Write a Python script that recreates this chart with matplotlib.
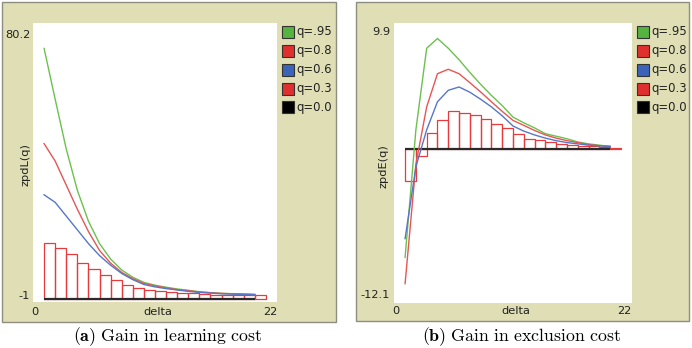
import numpy as np
import matplotlib
matplotlib.use("Agg")
import matplotlib.pyplot as plt
from matplotlib.patches import Rectangle

plt.rcParams['mathtext.fontset'] = 'cm'

# ---- data ----
delta = np.arange(1, 21)          # line points
bar_left = np.arange(1, 21)       # histogram bars cover [d, d+1]

labels = ['q=.95', 'q=0.8', 'q=0.6', 'q=0.3', 'q=0.0']

# panel (a): gain in learning cost
learn_q95 = [72.8, 58.0, 43.5, 31.5, 22.5, 16.0, 11.5, 8.3, 6.2, 4.7,
             3.9, 3.3, 2.8, 2.4, 2.0, 1.7, 1.5, 1.4, 1.3, 1.2]
learn_q80 = [45.1, 40.0, 33.0, 26.0, 19.5, 14.0, 10.3, 7.6, 5.8, 4.4,
             3.7, 3.1, 2.6, 2.3, 1.9, 1.7, 1.5, 1.4, 1.3, 1.2]
learn_q60 = [30.2, 28.0, 24.0, 20.0, 16.0, 12.5, 9.7, 7.3, 5.5, 4.1,
             3.4, 2.9, 2.5, 2.1, 1.8, 1.6, 1.4, 1.3, 1.2, 1.1]
learn_q30 = [16.2, 14.7, 13.0, 10.4, 8.6, 6.8, 5.5, 4.0, 3.2, 2.4,
             2.3, 2.0, 1.7, 1.5, 1.3, 1.1, 1.1, 1.1, 1.0, 1.0]
learn_ylim = (-1, 80.2)

# panel (b): gain in exclusion cost
excl_q95 = [-8.5, 1.5, 7.9, 8.66, 7.9, 7.0, 6.0, 5.07, 4.2, 3.4,
            2.5, 2.05, 1.65, 1.2, 1.0, 0.8, 0.55, 0.4, 0.3, 0.2]
excl_q80 = [-10.56, -1.2, 3.3, 5.9, 6.25, 5.9, 5.2, 4.47, 3.7, 2.95,
            2.24, 1.85, 1.45, 1.1, 0.85, 0.65, 0.5, 0.35, 0.25, 0.2]
excl_q60 = [-7.03, -1.4, 1.5, 3.7, 4.6, 4.86, 4.45, 3.9, 3.3, 2.6,
            1.8, 1.4, 1.1, 0.85, 0.65, 0.5, 0.4, 0.3, 0.25, 0.2]
excl_q30 = [-2.5, -0.55, 1.25, 2.3, 2.98, 2.82, 2.64, 2.38, 1.99, 1.65,
            1.2, 0.75, 0.68, 0.55, 0.4, 0.3, 0.25, 0.21, 0.14, 0.07]
excl_ylim = (-12.1, 9.9)

xlim = (0, 22)

# ---- styling ----
W, H = 692, 348
BG = '#dfdeb5'
line_colors = ['#6cc04f', '#e85555', '#5677c8']
bar_color = '#e8393c'
swatch_colors = ['#55b33f', '#e0302e', '#3b63b8', '#e0302e', '#000000']
tick_font = dict(fontsize=8.2, color='#222222', family='DejaVu Sans')
legend_font = dict(fontsize=8.4, color='#222222', family='DejaVu Sans')

fig = plt.figure(figsize=(W / 100, H / 100), dpi=100)
fig.patch.set_facecolor('white')


def fbox(x0, y0, x1, y1):
    # pixel box (top-left origin) -> figure fraction
    return [x0 / W, 1 - y1 / H, (x1 - x0) / W, (y1 - y0) / H]


def ftext(x, y, s, **kw):
    fig.text(x / W, 1 - y / H, s, zorder=6, **kw)


def panel(frame, plot_box, lines, bars, ylim, ylabel, ylab_pos,
          ytick_pos, xtick_y, legend_x, caption, caption_x):
    # beige NetLogo-style panel
    fig.patches.append(Rectangle((frame[0] / W, 1 - frame[3] / H),
                                 (frame[2] - frame[0]) / W,
                                 (frame[3] - frame[1]) / H,
                                 transform=fig.transFigure, facecolor=BG,
                                 edgecolor='#8e8e80', linewidth=1.0, zorder=-1))
    ax = fig.add_axes(fbox(*plot_box))
    ax.set_zorder(2)
    ax.set_facecolor('white')
    for s in ax.spines.values():
        s.set_visible(False)
    ax.set_xticks([])
    ax.set_yticks([])
    ax.set_xlim(*xlim)
    ax.set_ylim(*ylim)

    ax.bar(bar_left, bars, width=1, align='edge', fill=False,
           edgecolor=bar_color, linewidth=0.9, zorder=2)
    ax.plot(delta, np.zeros(len(delta)), color='#2a2a2a', linewidth=1.6,
            solid_capstyle='butt', zorder=3)
    for vals, c in zip(lines, line_colors):
        ax.plot(delta, vals, color=c, linewidth=1.0, zorder=4)

    # axis texts, NetLogo style
    ftext(ytick_pos[0], ytick_pos[1], f'{ylim[1]:g}', ha='right', va='center', **tick_font)
    ftext(ytick_pos[0], ytick_pos[2], f'{ylim[0]:g}', ha='right', va='center', **tick_font)
    ftext(plot_box[0] + 2, xtick_y, f'{xlim[0]}', ha='center', va='center', **tick_font)
    ftext(plot_box[2], xtick_y, f'{xlim[1]}', ha='right', va='center', **tick_font)
    ftext((plot_box[0] + plot_box[2]) / 2 + 3, xtick_y, 'delta', ha='center',
          va='center', **tick_font)
    ftext(ylab_pos[0], ylab_pos[1], ylabel, ha='center', va='center',
          rotation=90, **tick_font)

    # legend
    for i, (lab, c) in enumerate(zip(labels, swatch_colors)):
        yc = 31.5 + i * 19.0
        fig.patches.append(Rectangle((legend_x / W, 1 - (yc + 6) / H),
                                     12 / W, 12 / H, transform=fig.transFigure,
                                     facecolor=c, edgecolor='#333333',
                                     linewidth=0.8, zorder=5))
        ftext(legend_x + 15, yc, lab, ha='left', va='center', **legend_font)

    ftext(caption_x, 337, caption, ha='center', va='center', fontsize=12.8)
    return ax


panel(frame=(2, 2, 336, 322), plot_box=(33, 23, 277, 302),
      lines=[learn_q95, learn_q80, learn_q60], bars=learn_q30,
      ylim=learn_ylim, ylabel='zpdL(q)', ylab_pos=(25, 165),
      ytick_pos=(30, 35, 296), xtick_y=312, legend_x=281.5,
      caption=r'$\mathbf{(a)}\ \mathrm{Gain\ in\ learning\ cost}$',
      caption_x=167.5)

panel(frame=(356, 2, 689, 321), plot_box=(394.3, 22.7, 631.7, 303.3),
      lines=[excl_q95, excl_q80, excl_q60], bars=excl_q30,
      ylim=excl_ylim, ylabel='zpdE(q)', ylab_pos=(384, 166),
      ytick_pos=(390, 32, 295), xtick_y=311, legend_x=636.5,
      caption=r'$\mathbf{(b)}\ \mathrm{Gain\ in\ exclusion\ cost}$',
      caption_x=522)

fig.savefig('out.png', dpi=100, facecolor='white')
